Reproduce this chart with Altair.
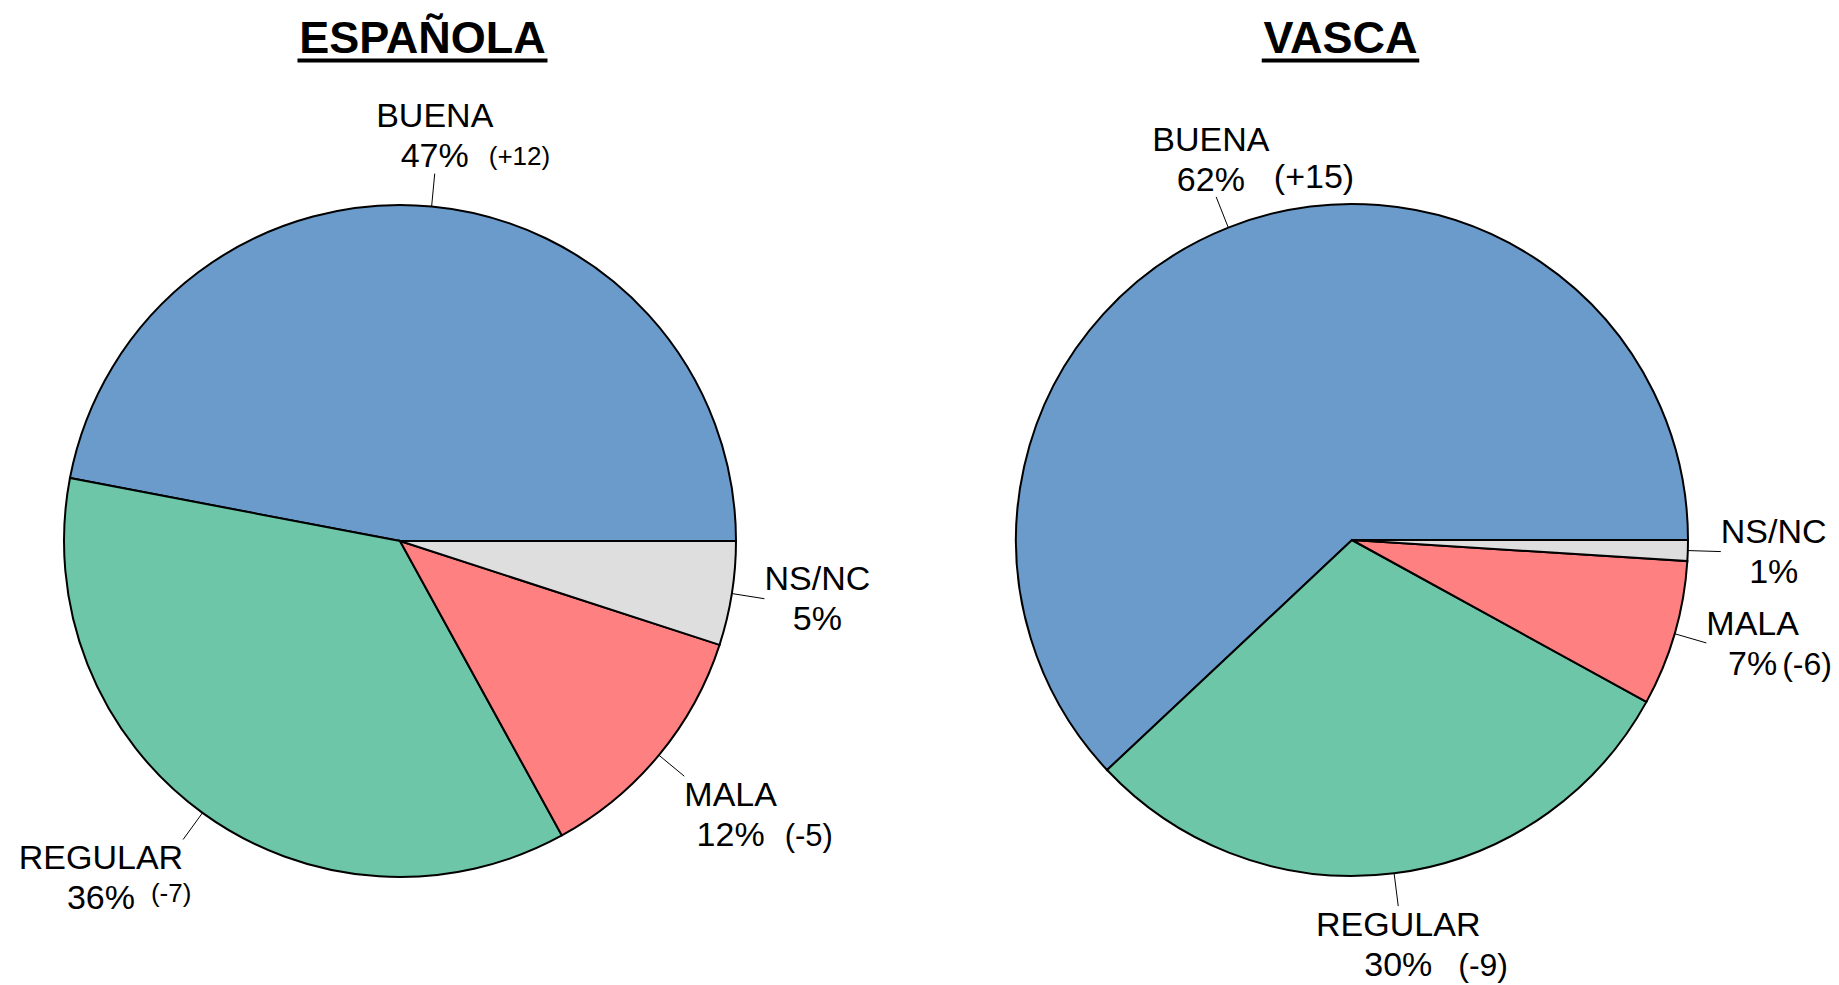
import math
import pandas as pd
import altair as alt

# ---------------- data ----------------
categories = ["BUENA", "REGULAR", "MALA", "NS/NC"]
pies = ["ESPAÑOLA", "VASCA"]
espanola_values = [47, 36, 12, 5]
vasca_values = [62, 30, 7, 1]
espanola_changes = ["(+12)", "(-7)", "(-5)", ""]
vasca_changes = ["(+15)", "(-9)", "(-6)", ""]

# ---------------- style / layout ----------------
colors = ["#6A9BCB", "#6CC6A7", "#FF8080", "#DEDEDE"]
FONT = "Liberation Sans"
W, H = 1823, 977           # view size; page coords = chart coords + 8
CENTERS = {"ESPAÑOLA": (400, 541), "VASCA": (1352, 540)}
TITLE_X = {"ESPAÑOLA": 422.5, "VASCA": 1340.5}
TITLE_BASE = 53
TITLE_SIZE = 45
R = 336
R_LEAD = 369
LABEL_SIZE = 34
HH = 38
# size, gap, vertical shift of the change annotations
CHANGE_STYLE = {
    ("ESPAÑOLA", "BUENA"): (26, 20, -2),
    ("ESPAÑOLA", "REGULAR"): (26, 16, -7),
    ("ESPAÑOLA", "MALA"): (31, 20, 0),
    ("VASCA", "BUENA"): (34, 29, -3),
    ("VASCA", "REGULAR"): (32, 26, 0),
    ("VASCA", "MALA"): (32, 5, 0),
}

ARIAL = {"A": 667, "B": 667, "C": 722, "E": 667, "G": 778, "L": 556, "M": 833,
         "N": 722, "R": 722, "S": 667, "U": 722, "/": 278, "%": 889, "(": 333,
         ")": 333, "+": 584, "-": 333, " ": 278}
ARIAL_BOLD = {"E": 667, "S": 667, "P": 667, "A": 722, "Ñ": 722, "O": 778,
              "L": 611, "V": 667, "C": 722}


def text_w(s, size, table):
    return sum(table.get(ch, 556) for ch in s) * size / 1000.0


def snap(t):
    m = min(max((abs(t) - 0.35) / 0.2, 0.0), 1.0)
    return math.copysign(m, t)


values = {"ESPAÑOLA": espanola_values, "VASCA": vasca_values}
changes = {"ESPAÑOLA": espanola_changes, "VASCA": vasca_changes}

slice_rows, lead_rows, label_rows, change_rows = [], [], [], []
for pie in pies:
    cx, cy = CENTERS[pie]
    vals = values[pie]
    tot = float(sum(vals))
    c = 0.0
    for cat, v, ch in zip(categories, vals, changes[pie]):
        c0, c1 = c / tot, (c + v) / tot
        c += v
        slice_rows.append(dict(pie=pie, cat=cat, value=v, cx=cx, cy=cy,
                               t0=1 - c1, t1=1 - c0))
        a = math.pi * (c0 + c1)
        ca, sa = math.cos(a), math.sin(a)
        lead_rows.append(dict(x=cx + R * ca, y=cy - R * sa,
                              x2=cx + R_LEAD * ca, y2=cy - R_LEAD * sa))
        ex, ey = cx + R_LEAD * ca, cy - R_LEAD * sa
        pct = f"{v}%"
        hw = max(text_w(cat, LABEL_SIZE, ARIAL), text_w(pct, LABEL_SIZE, ARIAL)) / 2
        lx = ex + hw * snap(ca)
        ly = ey - HH * snap(sa)
        label_rows.append(dict(x=lx, y=ly - 8.25, text=cat))
        label_rows.append(dict(x=lx, y=ly + 31.75, text=pct))
        if ch:
            size, gap, dy = CHANGE_STYLE[(pie, cat)]
            change_rows.append(dict(x=lx + text_w(pct, LABEL_SIZE, ARIAL) / 2 + gap,
                                    y=ly + 31.75 + dy, text=ch, size=size))

slices = pd.DataFrame(slice_rows)
leads = pd.DataFrame(lead_rows)
labels = pd.DataFrame(label_rows)
change_df = pd.DataFrame(change_rows)
titles = pd.DataFrame([dict(x=TITLE_X[p], y=TITLE_BASE, text=p) for p in pies])
underline = pd.DataFrame([dict(x=TITLE_X[p] - text_w(p, TITLE_SIZE, ARIAL_BOLD) / 2,
                               x2=TITLE_X[p] + text_w(p, TITLE_SIZE, ARIAL_BOLD) / 2,
                               y=TITLE_BASE + 7.5) for p in pies])

xs = alt.Scale(domain=[8, 8 + W], nice=False, zero=False)
ys = alt.Scale(domain=[8, 8 + H], nice=False, zero=False, reverse=True)


def X(f="x"):
    return alt.X(f"{f}:Q", scale=xs, axis=None)


def Y(f="y"):
    return alt.Y(f"{f}:Q", scale=ys, axis=None)


arcs = alt.Chart(slices).mark_arc(stroke="black", strokeWidth=2, outerRadius=R).encode(
    x=X("cx"), y=Y("cy"),
    theta=alt.Theta("t0:Q", scale=alt.Scale(domain=[0, 1], range=[math.pi / 2, 5 * math.pi / 2])),
    theta2=alt.Theta2("t1:Q"),
    color=alt.Color("cat:N", scale=alt.Scale(domain=categories, range=colors), legend=None),
)

lead = alt.Chart(leads).mark_rule(color="black", strokeWidth=1).encode(
    x=X(), y=Y(), x2="x2:Q", y2="y2:Q")

lab = alt.Chart(labels).mark_text(font=FONT, fontSize=LABEL_SIZE, align="center",
                                   baseline="alphabetic", color="black").encode(
    x=X(), y=Y(), text="text:N")

chg = alt.Chart(change_df).mark_text(font=FONT, align="left", baseline="alphabetic",
                                     color="black").encode(
    x=X(), y=Y(), text="text:N", size=alt.Size("size:Q", scale=None))

ttl = alt.Chart(titles).mark_text(font=FONT, fontSize=TITLE_SIZE, fontWeight="bold",
                                  align="center", baseline="alphabetic", color="black").encode(
    x=X(), y=Y(), text="text:N")

ul = alt.Chart(underline).mark_rule(color="black", strokeWidth=4).encode(
    x=X(), x2="x2:Q", y=Y())

chart = alt.layer(arcs, lead, lab, chg, ttl, ul).properties(
    width=W, height=H, padding=0, autosize=alt.AutoSizeParams(type="none"),
    background="white",
).configure_view(stroke=None)

chart.save("out.html", embed_options={"renderer": "svg", "actions": False})
